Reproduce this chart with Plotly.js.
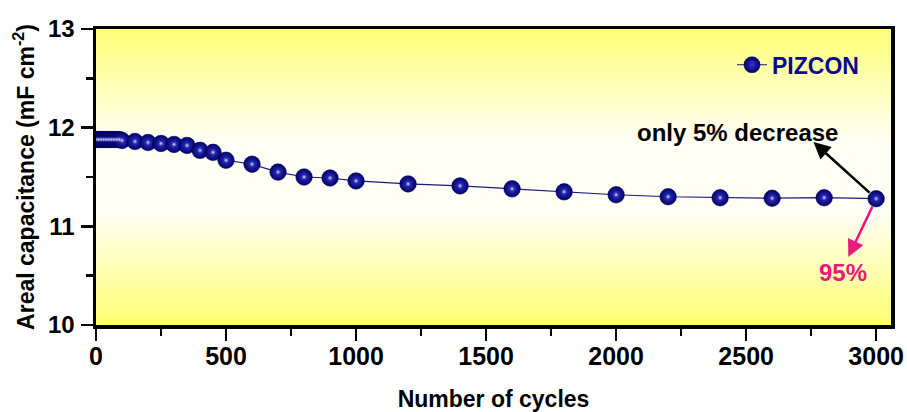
<!DOCTYPE html>
<html>
<head>
<meta charset="utf-8">
<script src="https://cdn.plot.ly/plotly-3.0.1.min.js"></script>
<style>
  html, body { margin: 0; padding: 0; background: #ffffff; }
  #chart { width: 907px; height: 412px; }
</style>
</head>
<body>
<div id="chart"></div>
<script>
// ---- data ----
const cycles = [0, 10, 20, 30, 40, 50, 60, 70, 80, 90,
  100, 150, 200, 250, 300, 350, 400, 450, 500,
  600, 700, 800, 900, 1000,
  1200, 1400, 1600, 1800, 2000, 2200, 2400, 2600, 2800, 3000];
const capacitance = [11.88, 11.88, 11.88, 11.88, 11.88, 11.88, 11.88, 11.88, 11.88, 11.88,
  11.87, 11.86, 11.85, 11.84, 11.83, 11.82, 11.77, 11.75, 11.67,
  11.63, 11.55, 11.50, 11.49, 11.46,
  11.43, 11.41, 11.38, 11.35, 11.32, 11.30, 11.29, 11.285, 11.29, 11.28];
const seriesName = 'PIZCON';
const xTickVals = [0, 500, 1000, 1500, 2000, 2500, 3000];
const yTickVals = [10, 11, 12, 13];
const decreaseLabel = 'only 5% decrease';
const retentionLabel = '95%';

const lastX = cycles[cycles.length - 1];
const lastY = capacitance[capacitance.length - 1];

const FONT = '"Liberation Sans", Arial, "DejaVu Sans", sans-serif';

const bgSvg = "<svg xmlns='http://www.w3.org/2000/svg' width='10' height='100' preserveAspectRatio='none'>" +
  "<defs><linearGradient id='g' x1='0' y1='0' x2='0' y2='1'>" +
  "<stop offset='0' stop-color='#ffff78'/>" +
  "<stop offset='0.38' stop-color='#fffff6'/>" +
  "<stop offset='0.62' stop-color='#fffff6'/>" +
  "<stop offset='1' stop-color='#ffff72'/>" +
  "</linearGradient></defs><rect width='10' height='100' fill='url(#g)'/></svg>";
const bgUri = 'data:image/svg+xml;charset=utf-8,' + encodeURIComponent(bgSvg);

const traces = [
  {
    x: cycles, y: capacitance, type: 'scatter', mode: 'lines+markers', name: seriesName,
    line: { color: '#1c1c7a', width: 1.2 },
    marker: { size: 16.5, color: '#00006e', line: { color: '#000050', width: 0.6 },
              gradient: { type: 'radial', color: '#3636c4' } },
    hoverinfo: 'x+y'
  },
  {
    x: cycles, y: capacitance, type: 'scatter', mode: 'markers', showlegend: false,
    marker: { size: 6, color: 'rgba(70,70,210,0)', line: { width: 0 },
              gradient: { type: 'radial', color: 'rgba(255,255,255,0.95)' } },
    hoverinfo: 'skip'
  }
];

const layout = {
  width: 907, height: 412,
  margin: { l: 96, r: 16, t: 29, b: 87 },
  paper_bgcolor: '#ffffff',
  plot_bgcolor: 'rgba(0,0,0,0)',
  font: { family: FONT, color: '#000000' },
  images: [{
    source: bgUri, xref: 'paper', yref: 'paper', x: 0, y: 1, sizex: 1, sizey: 1,
    xanchor: 'left', yanchor: 'top', sizing: 'stretch', layer: 'below'
  }],
  xaxis: {
    range: [0, 3057], tickvals: xTickVals, ticktext: xTickVals.map(String),
    showgrid: false, zeroline: false,
    showline: true, linecolor: '#000', linewidth: 3.5, mirror: true,
    ticks: 'outside', ticklen: 12, tickwidth: 2.5, tickcolor: '#000',
    minor: { dtick: 250, tick0: 0, ticks: 'outside', ticklen: 7, tickwidth: 2.5, tickcolor: '#000' },
    tickfont: { family: FONT, size: 25, color: '#000', weight: 'bold' },
    ticklabelstandoff: -6,
    title: { text: '<b>Number of cycles</b>', font: { family: FONT, size: 23, color: '#000' }, standoff: 24 }
  },
  yaxis: {
    range: [10, 13], tickvals: yTickVals, ticktext: yTickVals.map(String),
    showgrid: false, zeroline: false,
    showline: true, linecolor: '#000', linewidth: 3.5, mirror: true,
    ticks: 'outside', ticklen: 12, tickwidth: 2.5, tickcolor: '#000',
    minor: { dtick: 0.5, tick0: 10, ticks: 'outside', ticklen: 7, tickwidth: 2.5, tickcolor: '#000' },
    tickfont: { family: FONT, size: 24, color: '#000', weight: 'bold' },
    ticklabelstandoff: 1,
    title: { text: '<b>Areal capacitance (mF cm<sup>-2</sup>)</b>', font: { family: FONT, size: 23, color: '#000' }, standoff: 8 }
  },
  legend: {
    x: 0.80, y: 0.879, xanchor: 'left', yanchor: 'middle',
    bgcolor: 'rgba(0,0,0,0)', borderwidth: 0,
    font: { family: FONT, size: 23, color: '#0a0a8c', weight: 'bold' }
  },
  showlegend: true,
  annotations: [
    { x: 2759, y: 11.855, xref: 'x', yref: 'y', ax: lastX, ay: lastY, axref: 'x', ayref: 'y',
      text: '', showarrow: true, arrowhead: 2, arrowsize: 1.3, arrowwidth: 2.6, arrowcolor: '#000',
      startstandoff: 7 },
    { x: 2893, y: 10.69, xref: 'x', yref: 'y', ax: lastX, ay: lastY, axref: 'x', ayref: 'y',
      text: '', showarrow: true, arrowhead: 2, arrowsize: 1.3, arrowwidth: 2.6, arrowcolor: '#e8197f',
      startstandoff: 7 },
    { x: 2467, y: 11.955, xref: 'x', yref: 'y', text: '<b>' + decreaseLabel + '</b>', showarrow: false,
      font: { family: FONT, size: 24, color: '#000' } },
    { x: 2874, y: 10.535, xref: 'x', yref: 'y', text: '<b>' + retentionLabel + '</b>', showarrow: false,
      font: { family: FONT, size: 24, color: '#e8197f' } }
  ]
};

Plotly.newPlot('chart', traces, layout, { displayModeBar: false, staticPlot: true });
</script>
</body>
</html>
